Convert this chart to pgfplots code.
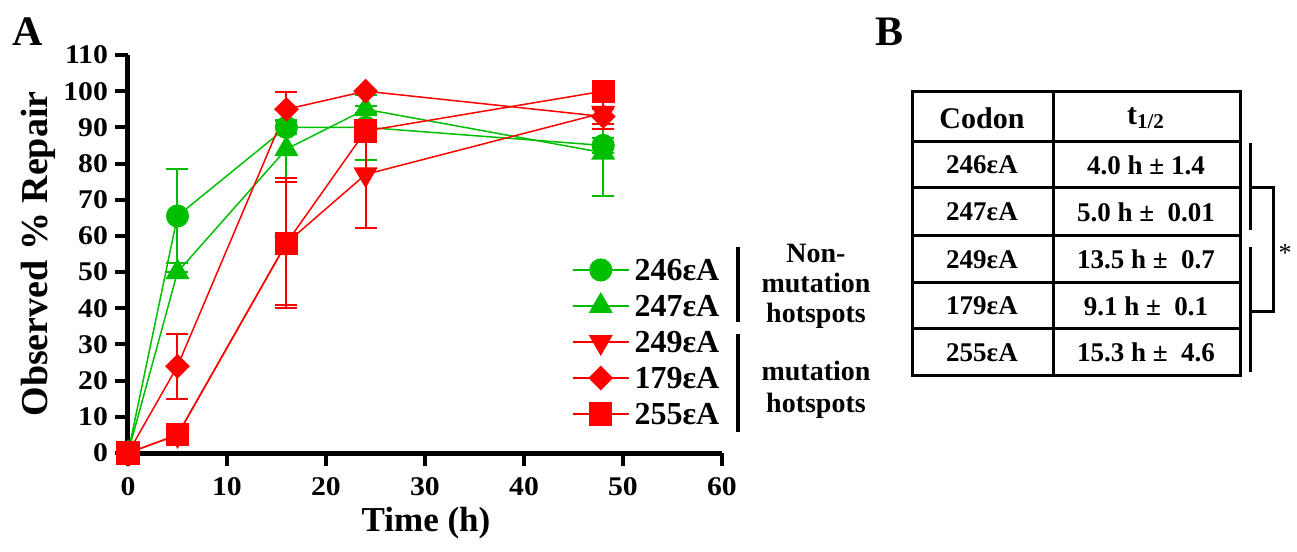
\documentclass[border=0pt]{standalone}
\usepackage{pgfplots}
\pgfplotsset{compat=1.18}
\usepackage{fontspec}
\setmainfont{Liberation Serif}
\newfontfamily\tickfont[FakeStretch=1.1]{Liberation Serif}
\definecolor{pgreen}{RGB}{0,190,0}
\definecolor{pred}{RGB}{255,0,0}
\newcommand{\fs}[2]{\fontsize{#1}{#2}\selectfont}
\begin{document}
\begin{tikzpicture}
\useasboundingbox (-64pt,-49.5pt) rectangle (584.5pt,226.5pt);
\begin{axis}[
  scale only axis, width=297pt, height=199pt,
  xmin=0, xmax=60, ymin=0, ymax=110,
  axis lines=left,
  axis line style={-, line width=2.5pt, shorten <=-6pt},
  xtick={0,10,...,60}, ytick={0,10,...,110},
  tick align=outside, major tick length=6.5pt,
  tick style={line width=2pt, black},
  ticklabel style={font=\tickfont\bfseries\fs{13.5}{15}},
  xticklabel style={yshift=-2pt},
  /pgf/number format/assume math mode=true,
  xlabel={Time (h)}, ylabel={Observed \% Repair},
  xlabel style={font=\bfseries\fs{17.5}{19}, at={(axis description cs:0.5017,-0.175)}, anchor=center},
  ylabel style={font=\bfseries\fs{19}{21}, at={(axis description cs:-0.1515,0.5)}, anchor=center},
  clip=false,
  legend style={draw=none, fill=none, at={(0.7475,0.4925)}, anchor=north west,
    inner sep=0pt, outer sep=0pt, font=\bfseries\fs{16}{18}, row sep=5pt, column sep=2.5pt,
    nodes={inner sep=0pt, text height=12pt, text depth=1pt}},
  legend cell align=left,
  legend image code/.code={\path (0pt,0pt) -- (28pt,0pt);
    \draw[overlay,mark repeat=2,mark phase=2,#1] plot coordinates {(0pt,0pt) (14pt,0pt) (28pt,0pt)};},
]
% 246 circle green
\addplot[pgreen, line width=0.75pt, mark=*, mark size=5.4pt, mark options={solid},
  error bars/.cd, y dir=both, y explicit, error bar style={line width=1pt},
  error mark options={rotate=90, pgreen, mark size=5.5pt, line width=1pt}]
  table[x=x, y=y, y error=e] {
x y e
0 0 0
5 65.5 13
16 90 1.8
24 90 9
48 85 2
};
\addlegendentry{246εA}
% 247 triangle green
\addplot[pgreen, line width=0.75pt, mark=triangle*, mark size=6.2pt, mark options={solid},
  error bars/.cd, y dir=both, y explicit, error bar style={line width=1pt},
  error mark options={rotate=90, pgreen, mark size=5.5pt, line width=1pt}]
  table[x=x, y=y, y error=e] {
x y e
0 0 0
5 50 0
16 84 8
24 95 1
48 83 12
};
\addlegendentry{247εA}
% 249 down triangle red
\addplot[pred, line width=0.75pt, mark=triangle*, mark size=6.2pt, mark options={solid, rotate=180},
  error bars/.cd, y dir=both, y explicit, error bar style={line width=1pt},
  error mark options={rotate=90, pred, mark size=5.5pt, line width=1pt}]
  table[x=x, y=y, y error=e] {
x y e
0 0 0
5 5 0
16 58 17
24 77 14.8
48 94 4.5
};
\addlegendentry{249εA}
% 179 diamond red
\addplot[pred, line width=0.75pt, mark=square*, mark size=4pt, mark options={solid, rotate=45},
  error bars/.cd, y dir=both, y explicit, error bar style={line width=1pt},
  error mark options={rotate=90, pred, mark size=5.5pt, line width=1pt}]
  table[x=x, y=y, y error=e] {
x y e
0 0 0
5 24 9
16 95 4.7
24 100 0
48 93 2
};
\addlegendentry{179εA}
% 255 square red
\addplot[pred, line width=0.75pt, mark=square*, mark size=5.4pt, mark options={solid},
  error bars/.cd, y dir=both, y explicit, error bar style={line width=1pt},
  error mark options={rotate=90, pred, mark size=5.5pt, line width=1pt}]
  table[x=x, y=y, y error=e] {
x y e
0 0 0
5 5 1
16 58 18
24 89 3
48 100 1
};
\addlegendentry{255εA}
\end{axis}
\begin{scope}[shift={(-64pt,226.5pt)}, x=0.5pt, y=-0.5pt]
  % panel letters
  \node[font=\bfseries\fs{21}{23}] at (28,32) {A};
  \node[font=\bfseries\fs{21}{23}] at (890,32) {B};
  % legend group bars
  \draw[line width=2pt] (738,247) -- (738,322);
  \draw[line width=2pt] (738,334) -- (738,432);
  \node[font=\bfseries\fs{14}{15}, align=center] at (816,286) {Non-\\mutation\\hotspots};
  \node[font=\bfseries\fs{14}{16}, align=center] at (816,390) {mutation\\hotspots};
  % table
  \draw[line width=1.5pt] (912,92) rectangle (1240,376);
  \draw[line width=1.5pt] (1053,92) -- (1053,376);
  \foreach \yy in {142,188,236,283,329} \draw[line width=1.5pt] (912,\yy) -- (1240,\yy);
  \node[font=\bfseries\fs{15}{17}] at (982,118) {Codon};
  \node[font=\bfseries\fs{15}{17}] at (1146,118) {t\textsubscript{1/2}};
  \begin{scope}[every node/.style={font=\bfseries\fs{13.5}{15}}]
    \node at (982,165) {246εA};   \node at (1146,165) {4.0 h ± 1.4};
    \node at (982,212) {247εA};   \node at (1146,212) {5.0 h ±\ \ 0.01};
    \node at (982,259.5) {249εA}; \node at (1146,259.5) {13.5 h ±\ \ 0.7};
    \node at (982,306) {179εA};   \node at (1146,306) {9.1 h ±\ \ 0.1};
    \node at (982,352.5) {255εA}; \node at (1146,352.5) {15.3 h ±\ \ 4.6};
  \end{scope}
  % significance bracket
  \draw[line width=1.5pt] (1250,143) -- (1250,230);
  \draw[line width=1.5pt] (1250,247) -- (1250,372);
  \draw[line width=1.5pt] (1250,188) -- (1273,188) -- (1273,312) -- (1250,312);
  \node[font=\fs{13}{15}] at (1285,253) {*};
\end{scope}
\end{tikzpicture}
\end{document}
